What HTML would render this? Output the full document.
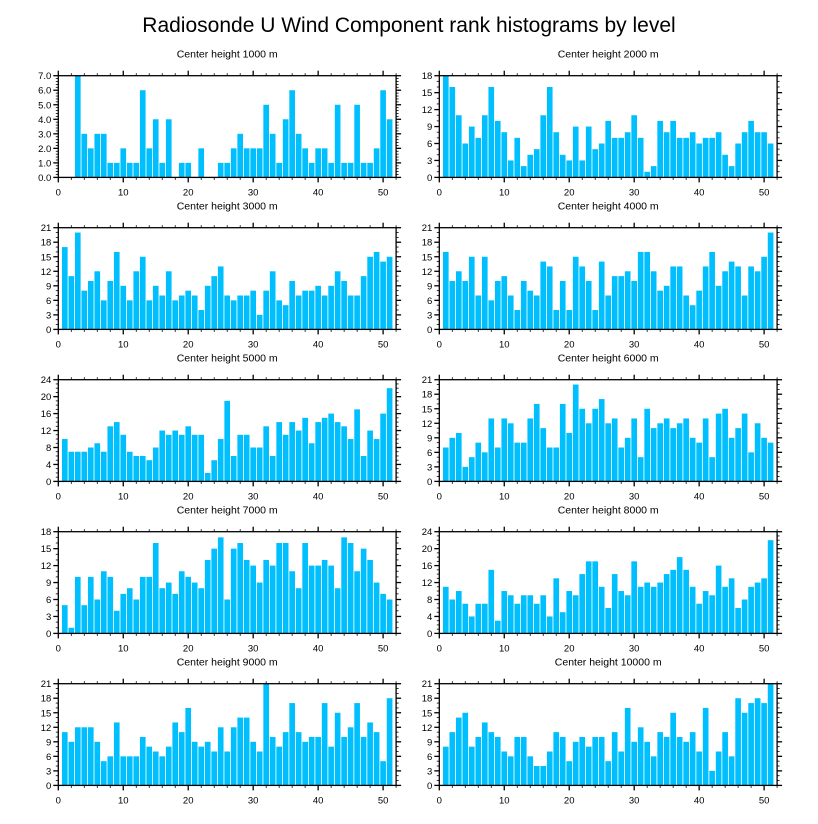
<!DOCTYPE html>
<html><head><meta charset="utf-8">
<style>
html,body{margin:0;padding:0;background:#fff;}
svg{display:block;font-family:"Liberation Sans",Arial,sans-serif;}
</style></head>
<body>
<svg id="chart" width="818" height="824" viewBox="0 0 818 824" xmlns="http://www.w3.org/2000/svg">
<rect width="818" height="824" fill="#fff"/>
<text x="409" y="32" text-anchor="middle" font-size="21" fill="#000">Radiosonde U Wind Component rank histograms by level</text>
</svg>
<script>
const levels = ["1000","2000","3000","4000","5000","6000","7000","8000","9000","10000"];
const yMax = [7,18,21,21,24,21,18,24,21,21];
const yStep = [1,3,3,3,4,3,3,4,3,3];
const counts1000 = [0,0,7,3,2,3,3,1,1,2,1,1,6,2,4,1,4,0,1,1,0,2,0,0,1,1,2,3,2,2,2,5,3,1,4,6,3,2,1,2,2,1,5,1,1,5,1,1,2,6,4];
const counts2000 = [18,16,11,6,9,7,11,16,10,8,3,7,2,4,5,11,16,8,4,3,9,3,9,5,6,10,7,7,8,11,7,1,2,10,8,10,7,7,8,6,7,7,8,4,2,6,8,10,8,8,6];
const counts3000 = [17,11,20,8,10,12,6,10,16,9,6,12,15,6,9,7,12,6,7,8,7,4,9,11,13,7,6,7,7,8,3,8,12,6,5,10,7,8,8,9,7,9,12,10,7,7,11,15,16,14,15];
const counts4000 = [16,10,12,10,15,7,15,6,10,11,7,4,10,8,7,14,13,4,10,4,15,13,10,4,14,7,11,11,12,10,16,16,12,8,9,13,13,7,5,8,13,16,9,12,14,13,7,13,12,15,20];
const counts5000 = [10,7,7,7,8,9,7,13,14,11,7,6,6,5,8,12,11,12,11,13,11,11,2,5,10,19,6,11,11,8,8,13,6,14,11,14,12,15,9,14,15,16,14,13,10,17,6,12,10,16,22];
const counts6000 = [7,9,10,3,5,8,6,13,7,13,12,8,8,13,16,11,7,7,16,10,20,15,12,15,17,12,13,7,9,13,5,15,11,12,13,11,12,13,9,8,13,5,14,15,9,11,14,6,12,9,8];
const counts7000 = [5,1,10,5,10,6,11,10,4,7,8,6,10,10,16,8,9,7,11,10,9,8,13,15,17,6,15,16,13,12,9,13,12,16,16,11,8,16,12,12,13,12,8,17,16,11,15,13,9,7,6];
const counts8000 = [11,8,10,7,4,7,7,15,3,10,9,7,9,9,7,9,4,13,5,10,9,14,17,17,11,6,14,10,9,17,11,12,11,12,14,15,18,15,11,7,10,9,16,11,13,6,8,11,12,13,22];
const counts9000 = [11,9,12,12,12,9,5,6,13,6,6,6,10,8,7,6,8,13,11,16,9,8,9,7,12,7,12,14,14,9,7,21,10,8,11,17,11,9,10,10,17,8,15,10,12,17,10,13,11,5,18];
const counts10000 = [8,11,14,15,8,10,13,11,10,7,6,10,10,6,4,4,7,11,10,5,9,10,8,10,10,5,11,7,16,9,12,9,6,11,10,15,10,9,11,7,16,3,7,11,6,18,15,17,18,17,21];
const allCounts = [counts1000,counts2000,counts3000,counts4000,counts5000,counts6000,counts7000,counts8000,counts9000,counts10000];
const xTickLabels = [0,10,20,30,40,50];

const NS = "http://www.w3.org/2000/svg";
const svg = document.getElementById("chart");
function mk(tag, attrs, parent){
  const e = document.createElementNS(NS, tag);
  for (const k in attrs) e.setAttribute(k, attrs[k]);
  (parent||svg).appendChild(e);
  return e;
}
const W = 337.8, H = 101.7, XMAX = 52;
for (let p = 0; p < levels.length; p++){
  const col = p % 2, row = Math.floor(p/2);
  const L = col === 0 ? 58.3 : 439.3;
  const T = 75.7 + 152*row;
  const B = T + H, R = L + W;
  const xs = v => L + v/XMAX*W;
  const ys = v => B - v/yMax[p]*H;
  const g = mk("g", {});
  
  
  const st = mk("text", {x:(L+R)/2, y:T-18, "text-anchor":"middle", "font-size":"10.5", fill:"#000"}, g);
  
  
  st.textContent = "Center height " + levels[p] + " m";
  const data = allCounts[p];
  for (let i = 0; i < data.length; i++){
    const rank = i + 1;
    if (data[i] <= 0) continue;
    const bw = 0.87*W/XMAX;
    const r = mk("rect", {x:xs(rank)-bw/2, y:ys(data[i]), width:bw, height:B-ys(data[i]), fill:"#00BFFF"}, g);
    
    
  }
  const fr = mk("rect", {x:L, y:T, width:W, height:H, fill:"none", stroke:"#000", "stroke-width":"1.3"}, g);
  
  
  // x ticks
  for (let v = 0; v <= XMAX; v += 2){
    const major = v % 10 === 0;
    const len = major ? 5 : 2.5;
    const x = xs(v);
    mk("line", {x1:x, x2:x, y1:B, y2:B+len, stroke:"#000", "stroke-width":major?1.3:0.8}, g);
    mk("line", {x1:x, x2:x, y1:T, y2:T-len, stroke:"#000", "stroke-width":major?1.3:0.8}, g);
  }
  xTickLabels.forEach(v => {
    const t = mk("text", {x:xs(v), y:B+18, "text-anchor":"middle", "font-size":"9.5", fill:"#000"}, g);
    
    
    t.textContent = v;
  });
  // y ticks
  const minorN = yStep[p] === 1 ? 5 : (yStep[p] === 4 ? 4 : 3);
  const mstep = yStep[p]/minorN;
  for (let k = 0; k*mstep <= yMax[p] + 1e-9; k++){
    const v = k*mstep;
    const major = k % minorN === 0;
    const len = major ? 5 : 2.5;
    const y = ys(v);
    mk("line", {x1:L, x2:L-len, y1:y, y2:y, stroke:"#000", "stroke-width":major?1.3:0.8}, g);
    mk("line", {x1:R, x2:R+len, y1:y, y2:y, stroke:"#000", "stroke-width":major?1.3:0.8}, g);
    if (major){
      const t = mk("text", {x:L-7, y:y+3.5, "text-anchor":"end", "font-size":"9.5", fill:"#000"}, g);
      
      
      t.textContent = yStep[p] === 1 ? v.toFixed(1) : Math.round(v);
    }
  }
}
</script>
</body></html>
